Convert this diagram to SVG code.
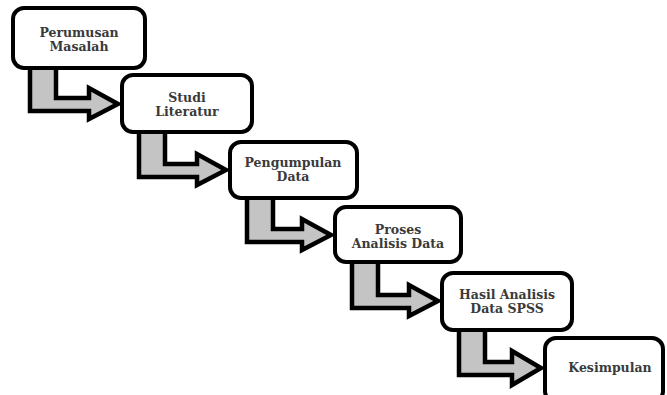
<svg xmlns="http://www.w3.org/2000/svg" width="667" height="395" viewBox="0 0 667 395">
<style>
.box{fill:#fff;stroke:#000;stroke-width:4}
.arr{fill:#c4c4c4;stroke:#000;stroke-width:4.5;stroke-linejoin:miter}
.t{font-family:"DejaVu Serif","Liberation Serif",serif;font-weight:bold;font-size:12.5px;fill:#3a3a3a;text-anchor:middle}
</style>
<rect width="667" height="395" fill="#fff"/>
<g id="connectors">
<path class="arr" d="M30,66 V111 H89 V119 L118,104 L89,88 V98 H56 V66 Z"/>
<path class="arr" d="M139,130 V177 H197 V185 L226,170 L197,154 V164 H165 V130 Z"/>
<path class="arr" d="M247,196 V242 H302 V250 L331,235 L302,219 V229 H273 V196 Z"/>
<path class="arr" d="M352,260 V308 H409 V316 L438,301 L409,285 V295 H378 V260 Z"/>
<path class="arr" d="M459,328 V375 H512 V385 L541,368 L512,351 V362 H485 V328 Z"/>
</g>
<g id="n1"><rect class="box" x="13" y="8" width="132" height="60" rx="11"/><text class="t" x="79" y="37">Perumusan</text><text class="t" x="79" y="51">Masalah</text></g>
<g id="n2"><rect class="box" x="122" y="75" width="130" height="57" rx="11"/><text class="t" x="187" y="102">Studi</text><text class="t" x="187" y="116">Literatur</text></g>
<g id="n3"><rect class="box" x="230" y="142" width="127" height="56" rx="11"/><text class="t" x="293" y="167">Pengumpulan</text><text class="t" x="293" y="181">Data</text></g>
<g id="n4"><rect class="box" x="335" y="207" width="126" height="55" rx="11"/><text class="t" x="398" y="234">Proses</text><text class="t" x="398" y="248">Analisis Data</text></g>
<g id="n5"><rect class="box" x="442" y="273" width="130" height="57" rx="11"/><text class="t" x="507" y="299">Hasil Analisis</text><text class="t" x="507" y="313">Data SPSS</text></g>
<g id="n6"><rect class="box" x="545" y="338" width="118" height="64" rx="11"/><text class="t" x="610" y="372">Kesimpulan</text></g>
</svg>
